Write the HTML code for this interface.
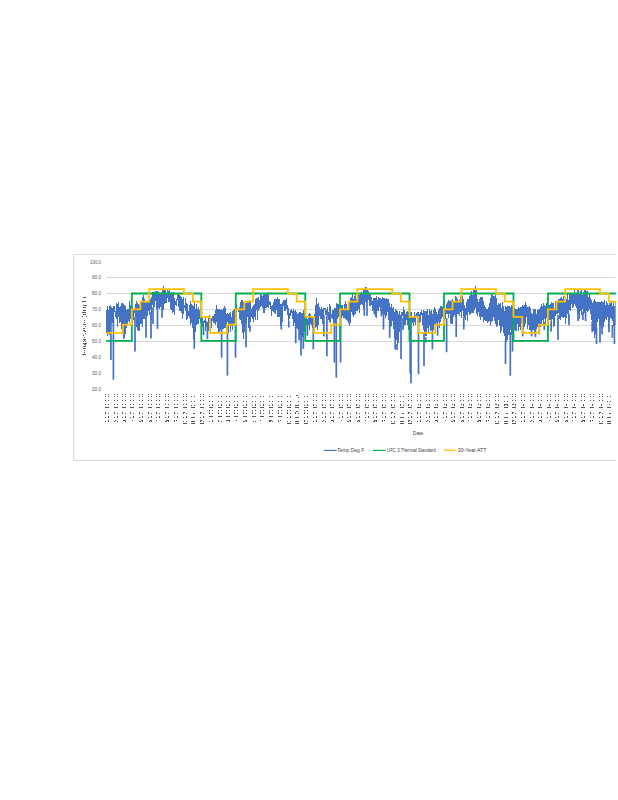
<!DOCTYPE html>
<html><head><meta charset="utf-8"><title>Chart</title>
<style>
html,body{margin:0;padding:0;background:#fff;width:618px;height:800px;overflow:hidden;}
svg{position:absolute;left:0;top:0;display:block;}
text{font-family:"Liberation Sans",sans-serif;fill:#595959;}
.yl{font-size:5.4px;fill:#595959;}
.yt{font-size:5.4px;}
.xl{font-size:4.8px;}
.xt{font-size:6px;fill:#404040;}
.lg{font-size:5.8px;fill:#404040;}
</style></head><body>
<svg width="618" height="800" viewBox="0 0 618 800">
<defs><filter id="nn" x="0" y="0" width="100%" height="100%" filterUnits="userSpaceOnUse"><feComponentTransfer><feFuncA type="discrete" tableValues="0 0 1 1"/></feComponentTransfer></filter><clipPath id="c"><rect x="0" y="0" width="615.8" height="800"/></clipPath><clipPath id="p"><rect x="106" y="250" width="509.8" height="150"/></clipPath></defs>
<g clip-path="url(#c)">
<path d="M73.5,460.5 L73.5,254.5 L640,254.5 M73.5,460.5 L640,460.5" fill="none" stroke="#d9d9d9" stroke-width="1"/>
<path d="M106.2,277.5 L640,277.5 M106.2,293.5 L640,293.5 M106.2,309.5 L640,309.5 M106.2,325.5 L640,325.5 M106.2,341.5 L640,341.5" fill="none" stroke="#d9d9d9" stroke-width="1"/>
<g clip-path="url(#p)" fill="#4472c4"><path d="M106,309.6 L106,309.6 L107,309.6 L107,305.5 L108,305.5 L108,310.2 L109,310.2 L109,305.5 L110,305.5 L110,304.7 L111,304.7 L111,307.2 L112,307.2 L112,307.5 L113,307.5 L113,306.4 L114,306.4 L114,305.9 L115,305.9 L115,310.8 L116,310.8 L116,303.0 L117,303.0 L117,304.3 L118,304.3 L118,302.4 L119,302.4 L119,307.0 L120,307.0 L120,305.5 L121,305.5 L121,302.7 L122,302.7 L122,303.0 L123,303.0 L123,303.9 L124,303.9 L124,305.3 L125,305.3 L125,305.9 L126,305.9 L126,310.4 L127,310.4 L127,308.9 L128,308.9 L128,309.4 L129,309.4 L129,301.3 L130,301.3 L130,304.5 L131,304.5 L131,304.2 L132,304.2 L132,307.3 L133,307.3 L133,308.9 L134,308.9 L134,307.6 L135,307.6 L135,304.1 L136,304.1 L136,301.0 L137,301.0 L137,303.2 L138,303.2 L138,304.1 L139,304.1 L139,304.5 L140,304.5 L140,307.5 L141,307.5 L141,301.4 L142,301.4 L142,297.4 L143,297.4 L143,295.0 L144,295.0 L144,298.9 L145,298.9 L145,303.2 L146,303.2 L146,301.4 L147,301.4 L147,301.9 L148,301.9 L148,301.6 L149,301.6 L149,300.9 L150,300.9 L150,299.2 L151,299.2 L151,297.1 L152,297.1 L152,292.3 L153,292.3 L153,292.3 L154,292.3 L154,291.5 L155,291.5 L155,291.2 L156,291.2 L156,290.5 L157,290.5 L157,290.7 L158,290.7 L158,291.5 L159,291.5 L159,293.5 L160,293.5 L160,293.5 L161,293.5 L161,291.9 L162,291.9 L162,290.0 L163,290.0 L163,286.2 L164,286.2 L164,290.1 L165,290.1 L165,288.9 L166,288.9 L166,292.7 L167,292.7 L167,289.2 L168,289.2 L168,291.3 L169,291.3 L169,288.8 L170,288.8 L170,293.7 L171,293.7 L171,292.0 L172,292.0 L172,292.5 L173,292.5 L173,292.1 L174,292.1 L174,297.6 L175,297.6 L175,300.5 L176,300.5 L176,299.3 L177,299.3 L177,293.7 L178,293.7 L178,293.8 L179,293.8 L179,294.9 L180,294.9 L180,296.1 L181,296.1 L181,296.9 L182,296.9 L182,298.5 L183,298.5 L183,297.2 L184,297.2 L184,304.8 L185,304.8 L185,298.3 L186,298.3 L186,302.8 L187,302.8 L187,304.2 L188,304.2 L188,310.7 L189,310.7 L189,304.8 L190,304.8 L190,301.4 L191,301.4 L191,304.2 L192,304.2 L192,304.5 L193,304.5 L193,306.2 L194,306.2 L194,301.9 L195,301.9 L195,309.2 L196,309.2 L196,304.0 L197,304.0 L197,308.5 L198,308.5 L198,306.7 L199,306.7 L199,309.8 L200,309.8 L200,318.0 L201,318.0 L201,315.9 L202,315.9 L202,316.6 L203,316.6 L203,321.2 L204,321.2 L204,319.5 L205,319.5 L205,317.3 L206,317.3 L206,321.1 L207,321.1 L207,321.6 L208,321.6 L208,317.4 L209,317.4 L209,315.3 L210,315.3 L210,317.4 L211,317.4 L211,318.3 L212,318.3 L212,316.0 L213,316.0 L213,315.8 L214,315.8 L214,314.1 L215,314.1 L215,310.4 L216,310.4 L216,305.4 L217,305.4 L217,308.6 L218,308.6 L218,309.3 L219,309.3 L219,309.1 L220,309.1 L220,309.7 L221,309.7 L221,309.1 L222,309.1 L222,310.1 L223,310.1 L223,308.0 L224,308.0 L224,305.9 L225,305.9 L225,307.7 L226,307.7 L226,314.4 L227,314.4 L227,313.1 L228,313.1 L228,313.6 L229,313.6 L229,312.9 L230,312.9 L230,312.4 L231,312.4 L231,317.2 L232,317.2 L232,310.9 L233,310.9 L233,310.0 L234,310.0 L234,308.5 L235,308.5 L235,306.6 L236,306.6 L236,304.9 L237,304.9 L237,308.3 L238,308.3 L238,310.3 L239,310.3 L239,306.9 L240,306.9 L240,302.3 L241,302.3 L241,300.0 L242,300.0 L242,300.4 L243,300.4 L243,301.5 L244,301.5 L244,301.9 L245,301.9 L245,302.5 L246,302.5 L246,303.3 L247,303.3 L247,301.8 L248,301.8 L248,300.7 L249,300.7 L249,299.9 L250,299.9 L250,302.4 L251,302.4 L251,309.2 L252,309.2 L252,307.4 L253,307.4 L253,305.2 L254,305.2 L254,303.8 L255,303.8 L255,298.5 L256,298.5 L256,298.2 L257,298.2 L257,297.6 L258,297.6 L258,296.9 L259,296.9 L259,300.1 L260,300.1 L260,293.4 L261,293.4 L261,294.7 L262,294.7 L262,295.8 L263,295.8 L263,292.7 L264,292.7 L264,293.5 L265,293.5 L265,294.2 L266,294.2 L266,293.8 L267,293.8 L267,293.1 L268,293.1 L268,292.0 L269,292.0 L269,301.3 L270,301.3 L270,301.8 L271,301.8 L271,305.6 L272,305.6 L272,305.0 L273,305.0 L273,302.3 L274,302.3 L274,299.3 L275,299.3 L275,299.0 L276,299.0 L276,298.7 L277,298.7 L277,296.9 L278,296.9 L278,299.2 L279,299.2 L279,299.2 L280,299.2 L280,303.8 L281,303.8 L281,304.2 L282,304.2 L282,301.6 L283,301.6 L283,299.9 L284,299.9 L284,299.6 L285,299.6 L285,299.8 L286,299.8 L286,297.9 L287,297.9 L287,305.3 L288,305.3 L288,308.1 L289,308.1 L289,312.6 L290,312.6 L290,310.1 L291,310.1 L291,309.2 L292,309.2 L292,310.7 L293,310.7 L293,309.3 L294,309.3 L294,310.8 L295,310.8 L295,309.5 L296,309.5 L296,312.2 L297,312.2 L297,313.6 L298,313.6 L298,313.0 L299,313.0 L299,312.3 L300,312.3 L300,312.3 L301,312.3 L301,312.7 L302,312.7 L302,313.0 L303,313.0 L303,310.2 L304,310.2 L304,313.1 L305,313.1 L305,314.4 L306,314.4 L306,316.5 L307,316.5 L307,318.5 L308,318.5 L308,315.0 L309,315.0 L309,313.4 L310,313.4 L310,313.8 L311,313.8 L311,316.6 L312,316.6 L312,317.3 L313,317.3 L313,318.3 L314,318.3 L314,313.6 L315,313.6 L315,305.1 L316,305.1 L316,297.9 L317,297.9 L317,303.7 L318,303.7 L318,302.9 L319,302.9 L319,306.9 L320,306.9 L320,308.6 L321,308.6 L321,307.0 L322,307.0 L322,308.6 L323,308.6 L323,307.6 L324,307.6 L324,308.1 L325,308.1 L325,308.1 L326,308.1 L326,309.6 L327,309.6 L327,306.5 L328,306.5 L328,311.6 L329,311.6 L329,303.6 L330,303.6 L330,306.1 L331,306.1 L331,313.6 L332,313.6 L332,310.3 L333,310.3 L333,310.4 L334,310.4 L334,307.7 L335,307.7 L335,307.7 L336,307.7 L336,303.1 L337,303.1 L337,303.8 L338,303.8 L338,303.6 L339,303.6 L339,304.7 L340,304.7 L340,304.4 L341,304.4 L341,305.0 L342,305.0 L342,305.2 L343,305.2 L343,309.1 L344,309.1 L344,304.1 L345,304.1 L345,301.3 L346,301.3 L346,303.5 L347,303.5 L347,309.8 L348,309.8 L348,302.8 L349,302.8 L349,301.8 L350,301.8 L350,298.3 L351,298.3 L351,297.1 L352,297.1 L352,294.4 L353,294.4 L353,299.1 L354,299.1 L354,295.7 L355,295.7 L355,293.8 L356,293.8 L356,298.8 L357,298.8 L357,294.3 L358,294.3 L358,292.9 L359,292.9 L359,295.0 L360,295.0 L360,292.5 L361,292.5 L361,292.1 L362,292.1 L362,293.7 L363,293.7 L363,290.2 L364,290.2 L364,289.3 L365,289.3 L365,286.9 L366,286.9 L366,287.0 L367,287.0 L367,290.0 L368,290.0 L368,291.1 L369,291.1 L369,292.7 L370,292.7 L370,294.3 L371,294.3 L371,297.1 L372,297.1 L372,300.7 L373,300.7 L373,298.4 L374,298.4 L374,298.4 L375,298.4 L375,297.9 L376,297.9 L376,296.2 L377,296.2 L377,299.9 L378,299.9 L378,297.1 L379,297.1 L379,297.9 L380,297.9 L380,298.0 L381,298.0 L381,299.2 L382,299.2 L382,296.7 L383,296.7 L383,297.5 L384,297.5 L384,297.5 L385,297.5 L385,299.2 L386,299.2 L386,298.0 L387,298.0 L387,299.3 L388,299.3 L388,299.0 L389,299.0 L389,303.3 L390,303.3 L390,306.7 L391,306.7 L391,304.2 L392,304.2 L392,307.9 L393,307.9 L393,307.2 L394,307.2 L394,311.7 L395,311.7 L395,309.3 L396,309.3 L396,310.4 L397,310.4 L397,310.7 L398,310.7 L398,314.4 L399,314.4 L399,311.2 L400,311.2 L400,315.3 L401,315.3 L401,311.6 L402,311.6 L402,311.7 L403,311.7 L403,306.5 L404,306.5 L404,309.9 L405,309.9 L405,313.7 L406,313.7 L406,312.2 L407,312.2 L407,311.4 L408,311.4 L408,311.8 L409,311.8 L409,316.7 L410,316.7 L410,311.5 L411,311.5 L411,311.8 L412,311.8 L412,316.1 L413,316.1 L413,316.8 L414,316.8 L414,312.1 L415,312.1 L415,315.0 L416,315.0 L416,312.8 L417,312.8 L417,312.4 L418,312.4 L418,312.2 L419,312.2 L419,314.2 L420,314.2 L420,311.5 L421,311.5 L421,310.1 L422,310.1 L422,312.8 L423,312.8 L423,309.6 L424,309.6 L424,311.1 L425,311.1 L425,310.6 L426,310.6 L426,310.7 L427,310.7 L427,308.7 L428,308.7 L428,315.0 L429,315.0 L429,308.9 L430,308.9 L430,310.7 L431,310.7 L431,309.5 L432,309.5 L432,313.6 L433,313.6 L433,310.3 L434,310.3 L434,307.1 L435,307.1 L435,308.5 L436,308.5 L436,311.7 L437,311.7 L437,314.2 L438,314.2 L438,310.4 L439,310.4 L439,308.3 L440,308.3 L440,305.6 L441,305.6 L441,305.7 L442,305.7 L442,307.4 L443,307.4 L443,305.1 L444,305.1 L444,308.9 L445,308.9 L445,310.3 L446,310.3 L446,303.9 L447,303.9 L447,301.8 L448,301.8 L448,300.1 L449,300.1 L449,300.9 L450,300.9 L450,301.1 L451,301.1 L451,300.2 L452,300.2 L452,299.1 L453,299.1 L453,301.5 L454,301.5 L454,300.7 L455,300.7 L455,295.9 L456,295.9 L456,296.6 L457,296.6 L457,299.1 L458,299.1 L458,301.0 L459,301.0 L459,300.1 L460,300.1 L460,296.3 L461,296.3 L461,301.4 L462,301.4 L462,296.4 L463,296.4 L463,299.2 L464,299.2 L464,304.8 L465,304.8 L465,308.2 L466,308.2 L466,301.8 L467,301.8 L467,299.1 L468,299.1 L468,298.9 L469,298.9 L469,295.5 L470,295.5 L470,291.9 L471,291.9 L471,291.3 L472,291.3 L472,295.4 L473,295.4 L473,290.0 L474,290.0 L474,288.9 L475,288.9 L475,286.2 L476,286.2 L476,289.8 L477,289.8 L477,298.7 L478,298.7 L478,302.4 L479,302.4 L479,299.3 L480,299.3 L480,297.0 L481,297.0 L481,297.2 L482,297.2 L482,297.2 L483,297.2 L483,301.2 L484,301.2 L484,304.7 L485,304.7 L485,307.3 L486,307.3 L486,308.8 L487,308.8 L487,308.7 L488,308.7 L488,306.8 L489,306.8 L489,302.5 L490,302.5 L490,298.0 L491,298.0 L491,293.2 L492,293.2 L492,295.1 L493,295.1 L493,296.2 L494,296.2 L494,296.4 L495,296.4 L495,293.8 L496,293.8 L496,298.2 L497,298.2 L497,304.6 L498,304.6 L498,303.4 L499,303.4 L499,303.9 L500,303.9 L500,302.9 L501,302.9 L501,308.2 L502,308.2 L502,302.3 L503,302.3 L503,305.8 L504,305.8 L504,310.5 L505,310.5 L505,306.3 L506,306.3 L506,307.2 L507,307.2 L507,305.9 L508,305.9 L508,305.9 L509,305.9 L509,306.2 L510,306.2 L510,306.5 L511,306.5 L511,305.3 L512,305.3 L512,305.9 L513,305.9 L513,305.2 L514,305.2 L514,308.2 L515,308.2 L515,309.0 L516,309.0 L516,308.9 L517,308.9 L517,309.3 L518,309.3 L518,307.4 L519,307.4 L519,307.7 L520,307.7 L520,307.3 L521,307.3 L521,307.0 L522,307.0 L522,304.9 L523,304.9 L523,305.5 L524,305.5 L524,305.1 L525,305.1 L525,302.0 L526,302.0 L526,304.9 L527,304.9 L527,306.8 L528,306.8 L528,307.0 L529,307.0 L529,305.7 L530,305.7 L530,307.6 L531,307.6 L531,313.2 L532,313.2 L532,314.2 L533,314.2 L533,309.3 L534,309.3 L534,309.2 L535,309.2 L535,309.3 L536,309.3 L536,314.2 L537,314.2 L537,310.2 L538,310.2 L538,308.5 L539,308.5 L539,308.8 L540,308.8 L540,307.1 L541,307.1 L541,303.5 L542,303.5 L542,305.8 L543,305.8 L543,302.8 L544,302.8 L544,305.4 L545,305.4 L545,305.5 L546,305.5 L546,303.2 L547,303.2 L547,303.4 L548,303.4 L548,304.8 L549,304.8 L549,304.9 L550,304.9 L550,304.0 L551,304.0 L551,302.3 L552,302.3 L552,303.3 L553,303.3 L553,303.1 L554,303.1 L554,308.1 L555,308.1 L555,301.0 L556,301.0 L556,305.3 L557,305.3 L557,301.1 L558,301.1 L558,299.2 L559,299.2 L559,299.4 L560,299.4 L560,298.4 L561,298.4 L561,296.8 L562,296.8 L562,299.3 L563,299.3 L563,295.7 L564,295.7 L564,299.9 L565,299.9 L565,296.6 L566,296.6 L566,299.2 L567,299.2 L567,293.9 L568,293.9 L568,299.6 L569,299.6 L569,293.7 L570,293.7 L570,294.1 L571,294.1 L571,293.7 L572,293.7 L572,292.5 L573,292.5 L573,293.8 L574,293.8 L574,290.1 L575,290.1 L575,293.0 L576,293.0 L576,293.9 L577,293.9 L577,289.2 L578,289.2 L578,289.5 L579,289.5 L579,293.3 L580,293.3 L580,291.3 L581,291.3 L581,290.2 L582,290.2 L582,294.8 L583,294.8 L583,291.5 L584,291.5 L584,290.0 L585,290.0 L585,289.7 L586,289.7 L586,291.0 L587,291.0 L587,290.8 L588,290.8 L588,297.1 L589,297.1 L589,294.0 L590,294.0 L590,297.9 L591,297.9 L591,299.6 L592,299.6 L592,303.0 L593,303.0 L593,300.7 L594,300.7 L594,298.6 L595,298.6 L595,301.0 L596,301.0 L596,301.5 L597,301.5 L597,302.1 L598,302.1 L598,302.2 L599,302.2 L599,302.3 L600,302.3 L600,301.8 L601,301.8 L601,301.2 L602,301.2 L602,302.1 L603,302.1 L603,302.4 L604,302.4 L604,299.8 L605,299.8 L605,305.2 L606,305.2 L606,300.5 L607,300.5 L607,303.0 L608,303.0 L608,305.4 L609,305.4 L609,302.8 L610,302.8 L610,302.7 L611,302.7 L611,301.6 L612,301.6 L612,305.6 L613,305.6 L613,301.3 L614,301.3 L614,306.1 L615,306.1 L615,301.6 L616,301.6 L616,324.6 L615,324.6 L615,324.8 L614,324.8 L614,326.3 L613,326.3 L613,321.2 L612,321.2 L612,319.4 L611,319.4 L611,317.9 L610,317.9 L610,319.5 L609,319.5 L609,327.7 L608,327.7 L608,316.6 L607,316.6 L607,320.4 L606,320.4 L606,319.4 L605,319.4 L605,322.2 L604,322.2 L604,327.2 L603,327.2 L603,320.7 L602,320.7 L602,328.0 L601,328.0 L601,324.6 L600,324.6 L600,326.4 L599,326.4 L599,318.9 L598,318.9 L598,321.7 L597,321.7 L597,328.5 L596,328.5 L596,333.7 L595,333.7 L595,337.6 L594,337.6 L594,331.4 L593,331.4 L593,324.1 L592,324.1 L592,319.9 L591,319.9 L591,314.3 L590,314.3 L590,308.5 L589,308.5 L589,311.2 L588,311.2 L588,311.5 L587,311.5 L587,310.8 L586,310.8 L586,316.1 L585,316.1 L585,313.4 L584,313.4 L584,313.9 L583,313.9 L583,309.3 L582,309.3 L582,315.1 L581,315.1 L581,311.0 L580,311.0 L580,319.1 L579,319.1 L579,313.3 L578,313.3 L578,312.8 L577,312.8 L577,307.6 L576,307.6 L576,306.1 L575,306.1 L575,303.5 L574,303.5 L574,307.3 L573,307.3 L573,307.8 L572,307.8 L572,304.4 L571,304.4 L571,311.4 L570,311.4 L570,309.8 L569,309.8 L569,322.0 L568,322.0 L568,314.0 L567,314.0 L567,317.6 L566,317.6 L566,323.8 L565,323.8 L565,317.4 L564,317.4 L564,318.0 L563,318.0 L563,316.9 L562,316.9 L562,317.0 L561,317.0 L561,319.7 L560,319.7 L560,318.5 L559,318.5 L559,313.2 L558,313.2 L558,314.4 L557,314.4 L557,313.8 L556,313.8 L556,315.7 L555,315.7 L555,325.5 L554,325.5 L554,327.4 L553,327.4 L553,319.1 L552,319.1 L552,321.3 L551,321.3 L551,320.1 L550,320.1 L550,320.0 L549,320.0 L549,323.0 L548,323.0 L548,318.7 L547,318.7 L547,317.7 L546,317.7 L546,324.5 L545,324.5 L545,318.9 L544,318.9 L544,324.9 L543,324.9 L543,320.4 L542,320.4 L542,323.8 L541,323.8 L541,326.6 L540,326.6 L540,325.1 L539,325.1 L539,326.6 L538,326.6 L538,326.6 L537,326.6 L537,329.0 L536,329.0 L536,331.8 L535,331.8 L535,333.8 L534,333.8 L534,329.9 L533,329.9 L533,329.7 L532,329.7 L532,327.8 L531,327.8 L531,329.6 L530,329.6 L530,330.0 L529,330.0 L529,324.8 L528,324.8 L528,328.6 L527,328.6 L527,317.3 L526,317.3 L526,324.3 L525,324.3 L525,327.2 L524,327.2 L524,329.3 L523,329.3 L523,323.6 L522,323.6 L522,323.3 L521,323.3 L521,329.6 L520,329.6 L520,327.4 L519,327.4 L519,330.7 L518,330.7 L518,324.4 L517,324.4 L517,330.5 L516,330.5 L516,330.7 L515,330.7 L515,329.9 L514,329.9 L514,325.0 L513,325.0 L513,333.0 L512,333.0 L512,335.0 L511,335.0 L511,329.7 L510,329.7 L510,334.6 L509,334.6 L509,335.0 L508,335.0 L508,340.2 L507,340.2 L507,341.8 L506,341.8 L506,341.9 L505,341.9 L505,336.0 L504,336.0 L504,333.2 L503,333.2 L503,326.5 L502,326.5 L502,330.9 L501,330.9 L501,333.4 L500,333.4 L500,326.4 L499,326.4 L499,320.2 L498,320.2 L498,325.9 L497,325.9 L497,326.6 L496,326.6 L496,324.2 L495,324.2 L495,321.0 L494,321.0 L494,316.7 L493,316.7 L493,320.8 L492,320.8 L492,321.6 L491,321.6 L491,324.7 L490,324.7 L490,321.4 L489,321.4 L489,322.1 L488,322.1 L488,322.5 L487,322.5 L487,321.2 L486,321.2 L486,321.1 L485,321.1 L485,319.9 L484,319.9 L484,322.3 L483,322.3 L483,317.3 L482,317.3 L482,316.5 L481,316.5 L481,320.2 L480,320.2 L480,316.8 L479,316.8 L479,311.8 L478,311.8 L478,316.2 L477,316.2 L477,314.0 L476,314.0 L476,308.1 L475,308.1 L475,310.4 L474,310.4 L474,313.3 L473,313.3 L473,313.0 L472,313.0 L472,313.4 L471,313.4 L471,313.8 L470,313.8 L470,315.3 L469,315.3 L469,312.3 L468,312.3 L468,320.5 L467,320.5 L467,314.8 L466,314.8 L466,319.5 L465,319.5 L465,317.8 L464,317.8 L464,316.2 L463,316.2 L463,311.3 L462,311.3 L462,317.5 L461,317.5 L461,311.6 L460,311.6 L460,315.5 L459,315.5 L459,314.1 L458,314.1 L458,314.1 L457,314.1 L457,316.5 L456,316.5 L456,316.7 L455,316.7 L455,315.0 L454,315.0 L454,317.2 L453,317.2 L453,323.9 L452,323.9 L452,323.6 L451,323.6 L451,323.3 L450,323.3 L450,313.7 L449,313.7 L449,317.7 L448,317.7 L448,313.5 L447,313.5 L447,313.7 L446,313.7 L446,318.6 L445,318.6 L445,318.8 L444,318.8 L444,319.2 L443,319.2 L443,317.0 L442,317.0 L442,319.2 L441,319.2 L441,322.3 L440,322.3 L440,327.5 L439,327.5 L439,321.9 L438,321.9 L438,324.1 L437,324.1 L437,322.8 L436,322.8 L436,326.4 L435,326.4 L435,324.9 L434,324.9 L434,330.0 L433,330.0 L433,330.2 L432,330.2 L432,330.3 L431,330.3 L431,330.7 L430,330.7 L430,325.5 L429,325.5 L429,331.5 L428,331.5 L428,328.0 L427,328.0 L427,336.0 L426,336.0 L426,336.3 L425,336.3 L425,335.0 L424,335.0 L424,330.2 L423,330.2 L423,324.9 L422,324.9 L422,315.2 L421,315.2 L421,322.1 L420,322.1 L420,323.1 L419,323.1 L419,323.5 L418,323.5 L418,322.6 L417,322.6 L417,317.4 L416,317.4 L416,324.9 L415,324.9 L415,322.2 L414,322.2 L414,325.5 L413,325.5 L413,322.7 L412,322.7 L412,321.1 L411,321.1 L411,325.7 L410,325.7 L410,330.9 L409,330.9 L409,329.9 L408,329.9 L408,325.1 L407,325.1 L407,320.2 L406,320.2 L406,325.1 L405,325.1 L405,325.3 L404,325.3 L404,327.3 L403,327.3 L403,316.2 L402,316.2 L402,321.2 L401,321.2 L401,327.6 L400,327.6 L400,332.0 L399,332.0 L399,343.3 L398,343.3 L398,344.9 L397,344.9 L397,339.5 L396,339.5 L396,336.6 L395,336.6 L395,338.1 L394,338.1 L394,329.0 L393,329.0 L393,321.4 L392,321.4 L392,326.4 L391,326.4 L391,327.4 L390,327.4 L390,319.4 L389,319.4 L389,320.3 L388,320.3 L388,312.0 L387,312.0 L387,316.0 L386,316.0 L386,317.9 L385,317.9 L385,315.0 L384,315.0 L384,319.6 L383,319.6 L383,314.0 L382,314.0 L382,307.9 L381,307.9 L381,310.6 L380,310.6 L380,306.8 L379,306.8 L379,310.6 L378,310.6 L378,310.5 L377,310.5 L377,318.4 L376,318.4 L376,316.5 L375,316.5 L375,311.3 L374,311.3 L374,310.2 L373,310.2 L373,310.7 L372,310.7 L372,305.3 L371,305.3 L371,306.4 L370,306.4 L370,306.4 L369,306.4 L369,299.8 L368,299.8 L368,302.4 L367,302.4 L367,301.7 L366,301.7 L366,301.8 L365,301.8 L365,308.6 L364,308.6 L364,308.9 L363,308.9 L363,305.0 L362,305.0 L362,304.1 L361,304.1 L361,305.2 L360,305.2 L360,312.9 L359,312.9 L359,309.4 L358,309.4 L358,310.9 L357,310.9 L357,311.2 L356,311.2 L356,314.3 L355,314.3 L355,315.4 L354,315.4 L354,317.0 L353,317.0 L353,315.2 L352,315.2 L352,311.5 L351,311.5 L351,323.4 L350,323.4 L350,325.5 L349,325.5 L349,322.0 L348,322.0 L348,321.3 L347,321.3 L347,320.2 L346,320.2 L346,318.9 L345,318.9 L345,317.7 L344,317.7 L344,318.1 L343,318.1 L343,316.1 L342,316.1 L342,318.1 L341,318.1 L341,312.6 L340,312.6 L340,313.6 L339,313.6 L339,316.9 L338,316.9 L338,319.4 L337,319.4 L337,322.3 L336,322.3 L336,323.3 L335,323.3 L335,322.3 L334,322.3 L334,322.6 L333,322.6 L333,318.7 L332,318.7 L332,318.4 L331,318.4 L331,323.3 L330,323.3 L330,322.0 L329,322.0 L329,320.1 L328,320.1 L328,315.5 L327,315.5 L327,314.8 L326,314.8 L326,314.7 L325,314.7 L325,310.2 L324,310.2 L324,317.7 L323,317.7 L323,324.1 L322,324.1 L322,318.7 L321,318.7 L321,319.3 L320,319.3 L320,315.9 L319,315.9 L319,324.7 L318,324.7 L318,330.4 L317,330.4 L317,326.8 L316,326.8 L316,328.0 L315,328.0 L315,321.6 L314,321.6 L314,322.0 L313,322.0 L313,327.5 L312,327.5 L312,325.1 L311,325.1 L311,323.6 L310,323.6 L310,329.8 L309,329.8 L309,324.9 L308,324.9 L308,323.3 L307,323.3 L307,325.1 L306,325.1 L306,327.6 L305,327.6 L305,331.5 L304,331.5 L304,339.4 L303,339.4 L303,337.1 L302,337.1 L302,341.6 L301,341.6 L301,335.1 L300,335.1 L300,331.7 L299,331.7 L299,330.5 L298,330.5 L298,328.5 L297,328.5 L297,327.7 L296,327.7 L296,328.3 L295,328.3 L295,322.6 L294,322.6 L294,325.7 L293,325.7 L293,318.8 L292,318.8 L292,312.7 L291,312.7 L291,315.7 L290,315.7 L290,318.6 L289,318.6 L289,322.4 L288,322.4 L288,315.4 L287,315.4 L287,308.6 L286,308.6 L286,310.9 L285,310.9 L285,310.8 L284,310.8 L284,305.5 L283,305.5 L283,321.5 L282,321.5 L282,324.9 L281,324.9 L281,325.5 L280,325.5 L280,316.6 L279,316.6 L279,317.4 L278,317.4 L278,316.8 L277,316.8 L277,309.7 L276,309.7 L276,313.6 L275,313.6 L275,313.3 L274,313.3 L274,311.7 L273,311.7 L273,310.9 L272,310.9 L272,316.1 L271,316.1 L271,309.3 L270,309.3 L270,305.1 L269,305.1 L269,307.5 L268,307.5 L268,307.1 L267,307.1 L267,307.8 L266,307.8 L266,308.3 L265,308.3 L265,312.8 L264,312.8 L264,312.7 L263,312.7 L263,308.2 L262,308.2 L262,305.8 L261,305.8 L261,307.4 L260,307.4 L260,308.9 L259,308.9 L259,311.0 L258,311.0 L258,319.8 L257,319.8 L257,310.1 L256,310.1 L256,319.8 L255,319.8 L255,317.3 L254,317.3 L254,322.4 L253,322.4 L253,318.7 L252,318.7 L252,317.2 L251,317.2 L251,321.9 L250,321.9 L250,328.9 L249,328.9 L249,327.5 L248,327.5 L248,317.0 L247,317.0 L247,321.7 L246,321.7 L246,324.3 L245,324.3 L245,332.4 L244,332.4 L244,338.6 L243,338.6 L243,333.4 L242,333.4 L242,323.9 L241,323.9 L241,320.0 L240,320.0 L240,319.2 L239,319.2 L239,312.3 L238,312.3 L238,310.3 L237,310.3 L237,316.3 L236,316.3 L236,319.0 L235,319.0 L235,323.2 L234,323.2 L234,324.3 L233,324.3 L233,330.1 L232,330.1 L232,325.7 L231,325.7 L231,332.4 L230,332.4 L230,324.2 L229,324.2 L229,333.0 L228,333.0 L228,322.2 L227,322.2 L227,327.3 L226,327.3 L226,327.9 L225,327.9 L225,328.1 L224,328.1 L224,328.7 L223,328.7 L223,328.5 L222,328.5 L222,328.7 L221,328.7 L221,329.8 L220,329.8 L220,332.4 L219,332.4 L219,331.5 L218,331.5 L218,328.3 L217,328.3 L217,322.2 L216,322.2 L216,325.3 L215,325.3 L215,323.3 L214,323.3 L214,323.0 L213,323.0 L213,320.8 L212,320.8 L212,327.9 L211,327.9 L211,322.6 L210,322.6 L210,323.3 L209,323.3 L209,331.3 L208,331.3 L208,333.9 L207,333.9 L207,327.2 L206,327.2 L206,330.6 L205,330.6 L205,323.3 L204,323.3 L204,329.1 L203,329.1 L203,327.3 L202,327.3 L202,327.3 L201,327.3 L201,322.9 L200,322.9 L200,318.7 L199,318.7 L199,324.3 L198,324.3 L198,324.2 L197,324.2 L197,324.7 L196,324.7 L196,331.8 L195,331.8 L195,345.0 L194,345.0 L194,338.7 L193,338.7 L193,328.1 L192,328.1 L192,323.3 L191,323.3 L191,325.0 L190,325.0 L190,318.4 L189,318.4 L189,315.6 L188,315.6 L188,319.4 L187,319.4 L187,320.1 L186,320.1 L186,310.6 L185,310.6 L185,307.9 L184,307.9 L184,314.2 L183,314.2 L183,318.9 L182,318.9 L182,312.5 L181,312.5 L181,310.6 L180,310.6 L180,311.4 L179,311.4 L179,307.0 L178,307.0 L178,299.8 L177,299.8 L177,306.2 L176,306.2 L176,304.7 L175,304.7 L175,315.1 L174,315.1 L174,312.1 L173,312.1 L173,313.3 L172,313.3 L172,309.5 L171,309.5 L171,309.0 L170,309.0 L170,301.7 L169,301.7 L169,302.0 L168,302.0 L168,297.6 L167,297.6 L167,303.2 L166,303.2 L166,302.5 L165,302.5 L165,303.5 L164,303.5 L164,310.3 L163,310.3 L163,310.9 L162,310.9 L162,305.1 L161,305.1 L161,307.4 L160,307.4 L160,308.7 L159,308.7 L159,308.3 L158,308.3 L158,309.4 L157,309.4 L157,308.5 L156,308.5 L156,301.4 L155,301.4 L155,307.1 L154,307.1 L154,308.3 L153,308.3 L153,305.3 L152,305.3 L152,320.1 L151,320.1 L151,310.3 L150,310.3 L150,314.6 L149,314.6 L149,310.5 L148,310.5 L148,315.8 L147,315.8 L147,317.9 L146,317.9 L146,315.4 L145,315.4 L145,319.1 L144,319.1 L144,318.5 L143,318.5 L143,326.6 L142,326.6 L142,323.5 L141,323.5 L141,323.8 L140,323.8 L140,330.7 L139,330.7 L139,330.5 L138,330.5 L138,330.1 L137,330.1 L137,327.0 L136,327.0 L136,316.6 L135,316.6 L135,312.8 L134,312.8 L134,320.0 L133,320.0 L133,319.8 L132,319.8 L132,321.2 L131,321.2 L131,319.0 L130,319.0 L130,322.7 L129,322.7 L129,320.8 L128,320.8 L128,324.7 L127,324.7 L127,328.4 L126,328.4 L126,333.8 L125,333.8 L125,337.8 L124,337.8 L124,338.9 L123,338.9 L123,332.6 L122,332.6 L122,329.0 L121,329.0 L121,322.2 L120,322.2 L120,323.3 L119,323.3 L119,317.3 L118,317.3 L118,327.1 L117,327.1 L117,319.2 L116,319.2 L116,316.8 L115,316.8 L115,312.0 L114,312.0 L114,325.2 L113,325.2 L113,322.8 L112,322.8 L112,323.0 L111,323.0 L111,327.4 L110,327.4 L110,334.5 L109,334.5 L109,334.1 L108,334.1 L108,336.4 L107,336.4 L107,332.6 L106,332.6 Z" shape-rendering="crispEdges"/><rect x="110.05" y="321.8" width="1.7" height="38.1"/><rect x="112.55" y="318.3" width="1.7" height="61.4"/><rect x="134.15" y="317.0" width="1.7" height="34.5"/><rect x="145.15" y="315.0" width="1.7" height="22.8"/><rect x="150.15" y="312.0" width="1.7" height="26.5"/><rect x="152.15" y="307.3" width="1.7" height="16.7"/><rect x="156.65" y="304.8" width="1.7" height="24.0"/><rect x="161.15" y="303.3" width="1.7" height="14.5"/><rect x="193.45" y="338.5" width="1.7" height="10.3"/><rect x="202.65" y="326.5" width="1.7" height="8.5"/><rect x="206.55" y="325.0" width="1.7" height="14.0"/><rect x="220.75" y="327.9" width="1.7" height="29.8"/><rect x="226.55" y="325.2" width="1.7" height="50.4"/><rect x="234.65" y="316.5" width="1.7" height="41.2"/><rect x="245.15" y="319.0" width="1.7" height="28.4"/><rect x="249.15" y="325.5" width="1.7" height="6.1"/><rect x="280.45" y="322.7" width="1.7" height="6.8"/><rect x="287.95" y="320.9" width="1.7" height="6.6"/><rect x="294.85" y="324.1" width="1.7" height="19.2"/><rect x="298.25" y="331.1" width="1.7" height="9.4"/><rect x="300.15" y="333.7" width="1.7" height="21.9"/><rect x="302.45" y="333.0" width="1.7" height="15.8"/><rect x="306.55" y="322.0" width="1.7" height="13.7"/><rect x="312.45" y="322.0" width="1.7" height="27.5"/><rect x="323.05" y="315.0" width="1.7" height="21.4"/><rect x="326.05" y="315.7" width="1.7" height="40.6"/><rect x="333.55" y="322.0" width="1.7" height="40.5"/><rect x="335.45" y="320.9" width="1.7" height="56.8"/><rect x="339.75" y="315.0" width="1.7" height="47.5"/><rect x="348.45" y="319.3" width="1.7" height="4.7"/><rect x="363.45" y="302.0" width="1.7" height="13.8"/><rect x="366.15" y="302.0" width="1.7" height="13.8"/><rect x="373.45" y="307.3" width="1.7" height="7.1"/><rect x="380.55" y="308.6" width="1.7" height="7.9"/><rect x="382.65" y="310.0" width="1.7" height="19.5"/><rect x="388.85" y="317.3" width="1.7" height="20.5"/><rect x="394.35" y="334.6" width="1.7" height="14.9"/><rect x="396.15" y="344.0" width="1.7" height="6.0"/><rect x="400.15" y="321.4" width="1.7" height="37.6"/><rect x="402.15" y="318.0" width="1.7" height="12.0"/><rect x="409.35" y="321.8" width="1.7" height="51.7"/><rect x="410.15" y="321.0" width="1.7" height="62.2"/><rect x="417.65" y="321.5" width="1.7" height="52.7"/><rect x="423.15" y="333.3" width="1.7" height="32.7"/><rect x="424.85" y="337.1" width="1.7" height="5.5"/><rect x="431.55" y="326.7" width="1.7" height="22.8"/><rect x="436.75" y="322.8" width="1.7" height="12.9"/><rect x="445.75" y="318.2" width="1.7" height="34.0"/><rect x="455.35" y="313.8" width="1.7" height="23.2"/><rect x="462.95" y="316.4" width="1.7" height="13.1"/><rect x="504.65" y="340.5" width="1.7" height="23.5"/><rect x="509.45" y="332.0" width="1.7" height="43.6"/><rect x="511.65" y="331.0" width="1.7" height="20.5"/><rect x="521.85" y="323.0" width="1.7" height="13.4"/><rect x="530.75" y="326.9" width="1.7" height="9.5"/><rect x="534.65" y="327.5" width="1.7" height="9.5"/><rect x="538.45" y="324.1" width="1.7" height="10.2"/><rect x="543.45" y="322.0" width="1.7" height="8.0"/><rect x="547.25" y="321.6" width="1.7" height="7.2"/><rect x="550.25" y="321.0" width="1.7" height="10.6"/><rect x="557.15" y="315.0" width="1.7" height="24.8"/><rect x="568.15" y="313.7" width="1.7" height="11.7"/><rect x="577.15" y="311.0" width="1.7" height="10.0"/><rect x="582.05" y="311.5" width="1.7" height="8.5"/><rect x="584.75" y="311.9" width="1.7" height="9.1"/><rect x="591.35" y="321.4" width="1.7" height="10.9"/><rect x="595.65" y="327.2" width="1.7" height="16.8"/><rect x="599.15" y="322.0" width="1.7" height="20.6"/><rect x="601.25" y="320.6" width="1.7" height="13.7"/><rect x="608.15" y="320.0" width="1.7" height="12.3"/><rect x="611.55" y="325.0" width="1.7" height="12.8"/><rect x="613.65" y="325.0" width="1.7" height="19.0"/></g>
<path d="M106.20,340.90 L115.03,340.90 L115.03,340.90 L123.00,340.90 L123.00,340.90 L131.83,340.90 L131.83,293.50 L140.38,293.50 L140.38,293.50 L149.20,293.50 L149.20,293.50 L157.75,293.50 L157.75,293.50 L166.58,293.50 L166.58,293.50 L175.41,293.50 L175.41,293.50 L183.95,293.50 L183.95,293.50 L192.78,293.50 L192.78,293.50 L201.32,293.50 L201.32,340.90 L210.15,340.90 L210.15,340.90 L218.98,340.90 L218.98,340.90 L226.96,340.90 L226.96,340.90 L235.78,340.90 L235.78,293.50 L244.33,293.50 L244.33,293.50 L253.16,293.50 L253.16,293.50 L261.70,293.50 L261.70,293.50 L270.53,293.50 L270.53,293.50 L279.36,293.50 L279.36,293.50 L287.90,293.50 L287.90,293.50 L296.73,293.50 L296.73,293.50 L305.28,293.50 L305.28,340.90 L314.10,340.90 L314.10,340.90 L322.93,340.90 L322.93,340.90 L331.19,340.90 L331.19,340.90 L340.02,340.90 L340.02,293.50 L348.56,293.50 L348.56,293.50 L357.39,293.50 L357.39,293.50 L365.94,293.50 L365.94,293.50 L374.77,293.50 L374.77,293.50 L383.60,293.50 L383.60,293.50 L392.14,293.50 L392.14,293.50 L400.97,293.50 L400.97,293.50 L409.51,293.50 L409.51,340.90 L418.34,340.90 L418.34,340.90 L427.17,340.90 L427.17,340.90 L435.14,340.90 L435.14,340.90 L443.97,340.90 L443.97,293.50 L452.52,293.50 L452.52,293.50 L461.35,293.50 L461.35,293.50 L469.89,293.50 L469.89,293.50 L478.72,293.50 L478.72,293.50 L487.55,293.50 L487.55,293.50 L496.09,293.50 L496.09,293.50 L504.92,293.50 L504.92,293.50 L513.46,293.50 L513.46,340.90 L522.29,340.90 L522.29,340.90 L531.12,340.90 L531.12,340.90 L539.10,340.90 L539.10,340.90 L547.92,340.90 L547.92,293.50 L556.47,293.50 L556.47,293.50 L565.30,293.50 L565.30,293.50 L573.84,293.50 L573.84,293.50 L582.67,293.50 L582.67,293.50 L591.50,293.50 L591.50,293.50 L600.04,293.50 L600.04,293.50 L608.87,293.50 L608.87,293.50 L617.42,293.50 L617.42,340.90 L626.24,340.90 L626.24,340.90 L635.07,340.90" fill="none" stroke="#00b050" stroke-width="1.8" stroke-linejoin="miter"/>
<path d="M106.20,332.90 L115.03,332.90 L115.03,332.90 L123.00,332.90 L123.00,324.70 L131.83,324.70 L131.83,309.40 L140.38,309.40 L140.38,301.50 L149.20,301.50 L149.20,289.00 L157.75,289.00 L157.75,289.00 L166.58,289.00 L166.58,289.00 L175.41,289.00 L175.41,289.00 L183.95,289.00 L183.95,293.50 L192.78,293.50 L192.78,301.50 L201.32,301.50 L201.32,316.80 L210.15,316.80 L210.15,332.90 L218.98,332.90 L218.98,332.90 L226.96,332.90 L226.96,324.70 L235.78,324.70 L235.78,309.40 L244.33,309.40 L244.33,301.50 L253.16,301.50 L253.16,289.00 L261.70,289.00 L261.70,289.00 L270.53,289.00 L270.53,289.00 L279.36,289.00 L279.36,289.00 L287.90,289.00 L287.90,293.50 L296.73,293.50 L296.73,301.50 L305.28,301.50 L305.28,316.80 L314.10,316.80 L314.10,332.90 L322.93,332.90 L322.93,332.90 L331.19,332.90 L331.19,324.70 L340.02,324.70 L340.02,309.40 L348.56,309.40 L348.56,301.50 L357.39,301.50 L357.39,289.00 L365.94,289.00 L365.94,289.00 L374.77,289.00 L374.77,289.00 L383.60,289.00 L383.60,289.00 L392.14,289.00 L392.14,293.50 L400.97,293.50 L400.97,301.50 L409.51,301.50 L409.51,316.80 L418.34,316.80 L418.34,332.90 L427.17,332.90 L427.17,332.90 L435.14,332.90 L435.14,324.70 L443.97,324.70 L443.97,309.40 L452.52,309.40 L452.52,301.50 L461.35,301.50 L461.35,289.00 L469.89,289.00 L469.89,289.00 L478.72,289.00 L478.72,289.00 L487.55,289.00 L487.55,289.00 L496.09,289.00 L496.09,293.50 L504.92,293.50 L504.92,301.50 L513.46,301.50 L513.46,316.80 L522.29,316.80 L522.29,332.90 L531.12,332.90 L531.12,332.90 L539.10,332.90 L539.10,324.70 L547.92,324.70 L547.92,309.40 L556.47,309.40 L556.47,301.50 L565.30,301.50 L565.30,289.00 L573.84,289.00 L573.84,289.00 L582.67,289.00 L582.67,289.00 L591.50,289.00 L591.50,289.00 L600.04,289.00 L600.04,293.50 L608.87,293.50 L608.87,301.50 L617.42,301.50 L617.42,316.80 L626.24,316.80 L626.24,332.90 L635.07,332.90" fill="none" stroke="#ffc000" stroke-width="1.75" stroke-linejoin="miter"/>
<text x="90.0" y="264.3" textLength="11.0" lengthAdjust="spacingAndGlyphs" class="yl">100.0</text>
<text x="92.0" y="279.1" textLength="9.0" lengthAdjust="spacingAndGlyphs" class="yl">90.0</text>
<text x="92.0" y="295.1" textLength="9.0" lengthAdjust="spacingAndGlyphs" class="yl">80.0</text>
<text x="92.0" y="311.1" textLength="9.0" lengthAdjust="spacingAndGlyphs" class="yl">70.0</text>
<text x="92.0" y="327.1" textLength="9.0" lengthAdjust="spacingAndGlyphs" class="yl">60.0</text>
<text x="92.0" y="343.1" textLength="9.0" lengthAdjust="spacingAndGlyphs" class="yl">50.0</text>
<text x="92.0" y="359.1" textLength="9.0" lengthAdjust="spacingAndGlyphs" class="yl">40.0</text>
<text x="92.0" y="375.1" textLength="9.0" lengthAdjust="spacingAndGlyphs" class="yl">30.0</text>
<text x="92.0" y="391.1" textLength="9.0" lengthAdjust="spacingAndGlyphs" class="yl">20.0</text>
<g filter="url(#nn)">
<text transform="translate(85.6,326.5) rotate(-90)" x="-30" textLength="60" lengthAdjust="spacingAndGlyphs" class="yt">Temperature (deg F)</text>
<text transform="translate(108.80,422.4) rotate(-90)" textLength="29.5" lengthAdjust="spacingAndGlyphs" class="xl">1/1/2010 0:00</text>
<text transform="translate(117.63,422.4) rotate(-90)" textLength="29.5" lengthAdjust="spacingAndGlyphs" class="xl">2/1/2010 0:00</text>
<text transform="translate(125.60,422.4) rotate(-90)" textLength="29.5" lengthAdjust="spacingAndGlyphs" class="xl">3/1/2010 0:00</text>
<text transform="translate(134.43,422.4) rotate(-90)" textLength="29.5" lengthAdjust="spacingAndGlyphs" class="xl">4/1/2010 0:00</text>
<text transform="translate(142.98,422.4) rotate(-90)" textLength="29.5" lengthAdjust="spacingAndGlyphs" class="xl">5/1/2010 0:00</text>
<text transform="translate(151.80,422.4) rotate(-90)" textLength="29.5" lengthAdjust="spacingAndGlyphs" class="xl">6/1/2010 0:00</text>
<text transform="translate(160.35,422.4) rotate(-90)" textLength="29.5" lengthAdjust="spacingAndGlyphs" class="xl">7/1/2010 0:00</text>
<text transform="translate(169.18,422.4) rotate(-90)" textLength="29.5" lengthAdjust="spacingAndGlyphs" class="xl">8/1/2010 0:00</text>
<text transform="translate(178.01,422.4) rotate(-90)" textLength="29.5" lengthAdjust="spacingAndGlyphs" class="xl">9/1/2010 0:00</text>
<text transform="translate(186.55,425.2) rotate(-90)" textLength="32.3" lengthAdjust="spacingAndGlyphs" class="xl">10/1/2010 0:00</text>
<text transform="translate(195.38,425.2) rotate(-90)" textLength="32.3" lengthAdjust="spacingAndGlyphs" class="xl">11/1/2010 0:00</text>
<text transform="translate(203.92,425.2) rotate(-90)" textLength="32.3" lengthAdjust="spacingAndGlyphs" class="xl">12/1/2010 0:00</text>
<text transform="translate(212.75,422.4) rotate(-90)" textLength="29.5" lengthAdjust="spacingAndGlyphs" class="xl">1/1/2011 0:00</text>
<text transform="translate(221.58,422.4) rotate(-90)" textLength="29.5" lengthAdjust="spacingAndGlyphs" class="xl">2/1/2011 0:00</text>
<text transform="translate(229.56,422.4) rotate(-90)" textLength="29.5" lengthAdjust="spacingAndGlyphs" class="xl">3/1/2011 0:00</text>
<text transform="translate(238.38,422.4) rotate(-90)" textLength="29.5" lengthAdjust="spacingAndGlyphs" class="xl">4/1/2011 0:00</text>
<text transform="translate(246.93,422.4) rotate(-90)" textLength="29.5" lengthAdjust="spacingAndGlyphs" class="xl">5/1/2011 0:00</text>
<text transform="translate(255.76,422.4) rotate(-90)" textLength="29.5" lengthAdjust="spacingAndGlyphs" class="xl">6/1/2011 0:00</text>
<text transform="translate(264.30,422.4) rotate(-90)" textLength="29.5" lengthAdjust="spacingAndGlyphs" class="xl">7/1/2011 0:00</text>
<text transform="translate(273.13,422.4) rotate(-90)" textLength="29.5" lengthAdjust="spacingAndGlyphs" class="xl">8/1/2011 0:00</text>
<text transform="translate(281.96,422.4) rotate(-90)" textLength="29.5" lengthAdjust="spacingAndGlyphs" class="xl">9/1/2011 0:00</text>
<text transform="translate(290.50,425.2) rotate(-90)" textLength="32.3" lengthAdjust="spacingAndGlyphs" class="xl">10/1/2011 0:00</text>
<text transform="translate(299.33,425.2) rotate(-90)" textLength="32.3" lengthAdjust="spacingAndGlyphs" class="xl">11/1/2011 0:00</text>
<text transform="translate(307.88,425.2) rotate(-90)" textLength="32.3" lengthAdjust="spacingAndGlyphs" class="xl">12/1/2011 0:00</text>
<text transform="translate(316.70,422.4) rotate(-90)" textLength="29.5" lengthAdjust="spacingAndGlyphs" class="xl">1/1/2012 0:00</text>
<text transform="translate(325.53,422.4) rotate(-90)" textLength="29.5" lengthAdjust="spacingAndGlyphs" class="xl">2/1/2012 0:00</text>
<text transform="translate(333.79,422.4) rotate(-90)" textLength="29.5" lengthAdjust="spacingAndGlyphs" class="xl">3/1/2012 0:00</text>
<text transform="translate(342.62,422.4) rotate(-90)" textLength="29.5" lengthAdjust="spacingAndGlyphs" class="xl">4/1/2012 0:00</text>
<text transform="translate(351.16,422.4) rotate(-90)" textLength="29.5" lengthAdjust="spacingAndGlyphs" class="xl">5/1/2012 0:00</text>
<text transform="translate(359.99,422.4) rotate(-90)" textLength="29.5" lengthAdjust="spacingAndGlyphs" class="xl">6/1/2012 0:00</text>
<text transform="translate(368.54,422.4) rotate(-90)" textLength="29.5" lengthAdjust="spacingAndGlyphs" class="xl">7/1/2012 0:00</text>
<text transform="translate(377.37,422.4) rotate(-90)" textLength="29.5" lengthAdjust="spacingAndGlyphs" class="xl">8/1/2012 0:00</text>
<text transform="translate(386.20,422.4) rotate(-90)" textLength="29.5" lengthAdjust="spacingAndGlyphs" class="xl">9/1/2012 0:00</text>
<text transform="translate(394.74,425.2) rotate(-90)" textLength="32.3" lengthAdjust="spacingAndGlyphs" class="xl">10/1/2012 0:00</text>
<text transform="translate(403.57,425.2) rotate(-90)" textLength="32.3" lengthAdjust="spacingAndGlyphs" class="xl">11/1/2012 0:00</text>
<text transform="translate(412.11,425.2) rotate(-90)" textLength="32.3" lengthAdjust="spacingAndGlyphs" class="xl">12/1/2012 0:00</text>
<text transform="translate(420.94,422.4) rotate(-90)" textLength="29.5" lengthAdjust="spacingAndGlyphs" class="xl">1/1/2013 0:00</text>
<text transform="translate(429.77,422.4) rotate(-90)" textLength="29.5" lengthAdjust="spacingAndGlyphs" class="xl">2/1/2013 0:00</text>
<text transform="translate(437.74,422.4) rotate(-90)" textLength="29.5" lengthAdjust="spacingAndGlyphs" class="xl">3/1/2013 0:00</text>
<text transform="translate(446.57,422.4) rotate(-90)" textLength="29.5" lengthAdjust="spacingAndGlyphs" class="xl">4/1/2013 0:00</text>
<text transform="translate(455.12,422.4) rotate(-90)" textLength="29.5" lengthAdjust="spacingAndGlyphs" class="xl">5/1/2013 0:00</text>
<text transform="translate(463.95,422.4) rotate(-90)" textLength="29.5" lengthAdjust="spacingAndGlyphs" class="xl">6/1/2013 0:00</text>
<text transform="translate(472.49,422.4) rotate(-90)" textLength="29.5" lengthAdjust="spacingAndGlyphs" class="xl">7/1/2013 0:00</text>
<text transform="translate(481.32,422.4) rotate(-90)" textLength="29.5" lengthAdjust="spacingAndGlyphs" class="xl">8/1/2013 0:00</text>
<text transform="translate(490.15,422.4) rotate(-90)" textLength="29.5" lengthAdjust="spacingAndGlyphs" class="xl">9/1/2013 0:00</text>
<text transform="translate(498.69,425.2) rotate(-90)" textLength="32.3" lengthAdjust="spacingAndGlyphs" class="xl">10/1/2013 0:00</text>
<text transform="translate(507.52,425.2) rotate(-90)" textLength="32.3" lengthAdjust="spacingAndGlyphs" class="xl">11/1/2013 0:00</text>
<text transform="translate(516.06,425.2) rotate(-90)" textLength="32.3" lengthAdjust="spacingAndGlyphs" class="xl">12/1/2013 0:00</text>
<text transform="translate(524.89,422.4) rotate(-90)" textLength="29.5" lengthAdjust="spacingAndGlyphs" class="xl">1/1/2014 0:00</text>
<text transform="translate(533.72,422.4) rotate(-90)" textLength="29.5" lengthAdjust="spacingAndGlyphs" class="xl">2/1/2014 0:00</text>
<text transform="translate(541.70,422.4) rotate(-90)" textLength="29.5" lengthAdjust="spacingAndGlyphs" class="xl">3/1/2014 0:00</text>
<text transform="translate(550.52,422.4) rotate(-90)" textLength="29.5" lengthAdjust="spacingAndGlyphs" class="xl">4/1/2014 0:00</text>
<text transform="translate(559.07,422.4) rotate(-90)" textLength="29.5" lengthAdjust="spacingAndGlyphs" class="xl">5/1/2014 0:00</text>
<text transform="translate(567.90,422.4) rotate(-90)" textLength="29.5" lengthAdjust="spacingAndGlyphs" class="xl">6/1/2014 0:00</text>
<text transform="translate(576.44,422.4) rotate(-90)" textLength="29.5" lengthAdjust="spacingAndGlyphs" class="xl">7/1/2014 0:00</text>
<text transform="translate(585.27,422.4) rotate(-90)" textLength="29.5" lengthAdjust="spacingAndGlyphs" class="xl">8/1/2014 0:00</text>
<text transform="translate(594.10,422.4) rotate(-90)" textLength="29.5" lengthAdjust="spacingAndGlyphs" class="xl">9/1/2014 0:00</text>
<text transform="translate(602.64,425.2) rotate(-90)" textLength="32.3" lengthAdjust="spacingAndGlyphs" class="xl">10/1/2014 0:00</text>
<text transform="translate(611.47,425.2) rotate(-90)" textLength="32.3" lengthAdjust="spacingAndGlyphs" class="xl">11/1/2014 0:00</text>
</g>
<text x="412.8" y="434.9" textLength="10.5" lengthAdjust="spacingAndGlyphs" class="xt">Date</text>
<rect x="323.9" y="449.8" width="12.9" height="1.2" fill="#4472c4"/>
<text x="337.2" y="452" textLength="27.1" lengthAdjust="spacingAndGlyphs" class="lg">Temp Deg F</text>
<rect x="372.9" y="449.8" width="13" height="1.2" fill="#00b050"/>
<text x="387" y="452" textLength="48.6" lengthAdjust="spacingAndGlyphs" class="lg">UFC 3 Thermal Standard</text>
<rect x="444" y="449.6" width="12.7" height="1.2" fill="#ffc000"/>
<text x="457.8" y="452" textLength="28.7" lengthAdjust="spacingAndGlyphs" class="lg">30-Year ATT</text>
</g></svg>
</body></html>
